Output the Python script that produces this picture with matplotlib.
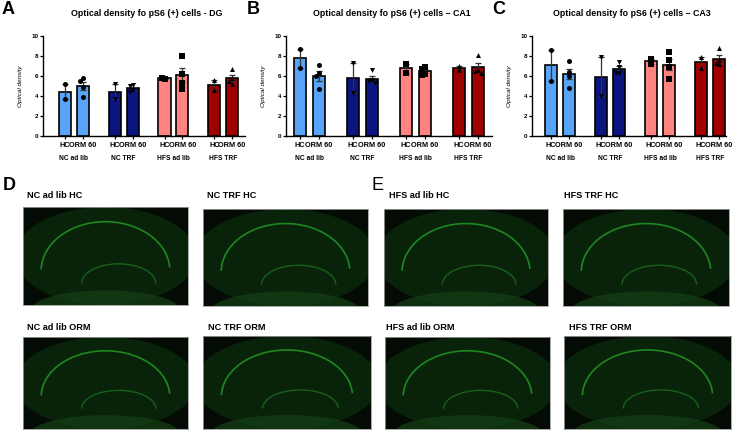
import numpy as np
from matplotlib import pyplot as plt
from matplotlib.patches import Arc, Ellipse

plt.rcParams['font.family'] = ['Liberation Sans', 'DejaVu Sans']

groups = ['NC ad lib', 'NC TRF', 'HFS ad lib', 'HFS TRF']
conditions = ['HC', 'ORM 60']
regions = ['DG', 'CA1', 'CA3']

# individual animals, order: NC ad lib HC, NC ad lib ORM, NC TRF HC, ... HFS TRF ORM
dg_points = [[5.2, 3.7], [5.8, 5.5, 4.9, 3.9],
             [5.2, 3.7], [5.1, 5.0, 4.6, 4.4],
             [5.75, 5.8], [8.05, 6.2, 5.35, 4.75],
             [5.6, 4.6], [6.7, 5.8, 5.5, 5.2]]
ca1_points = [[8.7, 6.85], [7.1, 6.3, 6.0, 4.7],
              [7.35, 4.3], [6.6, 5.6, 5.5, 5.3],
              [7.25, 6.35], [6.9, 6.7, 6.2, 6.1],
              [7.0, 6.6], [8.1, 6.6, 6.5, 6.35]]
ca3_points = [[8.6, 5.55], [7.5, 6.4, 6.05, 4.85],
              [7.9, 4.0], [7.4, 6.9, 6.35, 6.3],
              [7.75, 7.25], [8.4, 7.6, 6.9, 5.7],
              [7.9, 6.85], [8.8, 7.6, 7.3, 7.2]]
all_points = [dg_points, ca1_points, ca3_points]

image_titles = ['NC ad lib HC', 'NC TRF HC', 'NC ad lib ORM', 'NC TRF ORM',
                'HFS ad lib HC', 'HFS TRF HC', 'HFS ad lib ORM', 'HFS TRF ORM']

bar_colors = ['#58a4f6', '#58a4f6', '#0a1580', '#0a1580',
              '#ff8481', '#ff8481', '#a10000', '#a10000']
markers = ['o', 'o', 'v', 'v', 's', 's', '^', '^']

W, H = 743, 430
fig = plt.figure(figsize=(W / 100, H / 100), dpi=100)
fig.set_facecolor('white')


def rect(x0, y0, x1, y1):
    return [x0 / W, 1 - y1 / H, (x1 - x0) / W, (y1 - y0) / H]


def swarm(vals):
    placed = []
    offs = []
    for v in vals:
        for dx in [0, -0.16, 0.16, -0.32, 0.32]:
            if all(not (abs(v - pv) < 0.3 and abs(dx - pdx) < 0.15) for pv, pdx in placed):
                break
        placed.append((v, dx))
        offs.append(dx)
    return offs


xpos = []
for g in range(4):
    xpos += [g * 2.8, g * 2.8 + 1]
xpos = np.array(xpos)

chart_boxes = [(43, 36, 245, 136), (286, 36, 492, 136), (532, 36, 726, 136)]
chart_xlims = [(-1.24, 10.13), (-0.74, 10.14), (-1.07, 9.8)]
letters = ['A', 'B', 'C']
letter_x = [2, 247, 492]

for k in range(3):
    ax = fig.add_axes(rect(*chart_boxes[k]))
    pts = all_points[k]
    means = np.array([np.mean(p) for p in pts])
    sems = np.array([np.std(p, ddof=1) / np.sqrt(len(p)) for p in pts])
    ax.bar(xpos, means, width=0.68, color=bar_colors, edgecolor='black', linewidth=1.2, zorder=2)
    ax.errorbar(xpos, means, yerr=sems, fmt='none', ecolor='#333333', elinewidth=0.9,
                capsize=2.5, capthick=0.9, zorder=3)
    for i, p in enumerate(pts):
        offs = swarm(p)
        ax.scatter(xpos[i] + np.array(offs), p, marker=markers[i], s=13, color='black',
                   zorder=4, linewidths=0)
    ax.set_xlim(*chart_xlims[k])
    ax.set_ylim(0, 10)
    ax.set_yticks([0, 2, 4, 6, 8, 10])
    ax.set_xticks(xpos)
    ax.set_xticklabels(conditions * 4, fontsize=5.3, fontweight='bold')
    ax.tick_params(axis='y', labelsize=4.5, length=2.5, width=0.9, pad=1)
    ax.tick_params(axis='x', length=2.5, width=0.9, pad=1.5)
    for lab in ax.get_yticklabels():
        lab.set_fontweight('bold')
    for s in ['top', 'right']:
        ax.spines[s].set_visible(False)
    for s in ['left', 'bottom']:
        ax.spines[s].set_linewidth(1.0)
    ax.set_ylabel('Optical density', fontsize=4.6, style='italic', labelpad=6)
    for g in range(4):
        ax.text(g * 2.8 + 0.5, -0.22, groups[g], transform=ax.get_xaxis_transform(),
                ha='center', va='center', fontsize=4.8, fontweight='bold')
    title = 'Optical density fo pS6 (+) cells - ' + regions[k] if k == 0 else \
        'Optical density fo pS6 (+) cells \u2013 ' + regions[k]
    cx = (chart_boxes[k][0] + chart_boxes[k][2]) / 2 + 3
    fig.text(cx / W, 1 - 13 / H, title, ha='center', va='center', fontsize=6.4, fontweight='bold')
    fig.text(letter_x[k] / W, 1 - 10 / H, letters[k], ha='left', va='center', fontsize=13,
             fontweight='bold')

# micrograph panels (drawn as dark placeholders with the hippocampal layers)
image_boxes = [(23, 207, 188, 305), (203, 209, 368, 306), (23, 337, 188, 429), (203, 336, 371, 429),
               (384, 209, 548, 306), (563, 209, 729, 306), (385, 337, 550, 429), (564, 336, 731, 429)]
title_pos = [(27, 196), (207, 196), (27, 328), (208, 328),
             (389, 196), (564, 196), (386, 328), (569, 328)]

for i, box in enumerate(image_boxes):
    iax = fig.add_axes(rect(*box))
    iax.set_facecolor('#030b04')
    iax.set_xlim(0, 1)
    iax.set_ylim(0, 1)
    iax.set_xticks([])
    iax.set_yticks([])
    for s in iax.spines.values():
        s.set_edgecolor('#9a9a9a')
        s.set_linewidth(0.6)
    iax.add_patch(Ellipse((0.5, 0.5), 1.1, 1.0, color='#0b2a0e', alpha=0.8, lw=0))
    iax.add_patch(Ellipse((0.5, -0.05), 0.9, 0.4, color='#154015', alpha=0.7, lw=0))
    iax.add_patch(Arc((0.5, 0.35), 0.78, 1.0, theta1=5, theta2=178, color='#25a025', lw=1.2, alpha=0.8))
    iax.add_patch(Arc((0.58, 0.22), 0.45, 0.4, theta1=0, theta2=180, color='#1f7a1f', lw=1.0, alpha=0.7))
    fig.text(title_pos[i][0] / W, 1 - title_pos[i][1] / H, image_titles[i], ha='left', va='center',
             fontsize=6.6, fontweight='bold')

fig.text(3 / W, 1 - 185 / H, 'D', ha='left', va='center', fontsize=13, fontweight='bold')
fig.text(372 / W, 1 - 185 / H, 'E', ha='left', va='center', fontsize=13)

plt.savefig('out.png', dpi=100)
